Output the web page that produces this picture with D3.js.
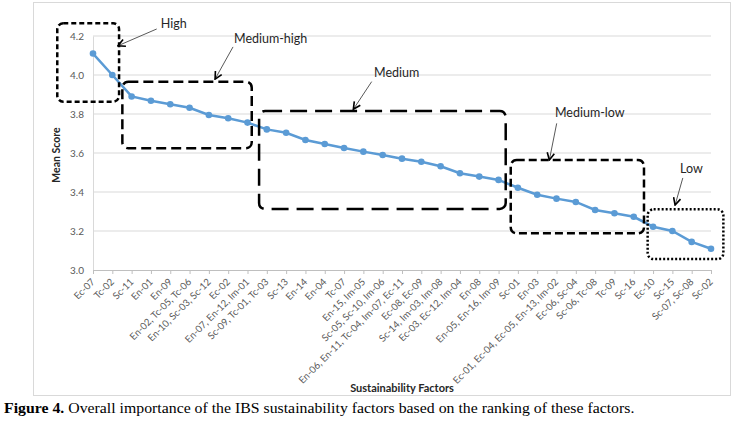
<!DOCTYPE html>
<html lang="en">
<head>
<meta charset="UTF-8">
<title>Figure 4</title>
<script src="https://d3js.org/d3.v7.min.js"></script>
<style>
  body { margin: 0; background: #fff; }
  svg { display: block; }
</style>
</head>
<body>
<script>
// factor groups along the x axis, ranked
var factors = [
  "Ec-07", "Tc-02", "Sc-11", "En-01", "En-09", "En-02, Tc-05, Tc-06",
  "En-10, Sc-03, Sc-12", "Ec-02", "En-07, En-12, Im-01", "Sc-09, Tc-01, Tc-03",
  "Sc-13", "En-14", "En-04", "Tc-07", "En-15, Im-05", "Sc-05, Sc-10, Im-06",
  "En-06, En-11, Tc-04, Im-07, Ec-11", "Ec-08, Ec-09", "Sc-14, Im-03, Im-08",
  "Ec-03, Ec-12, Im-04", "En-08", "En-05, En-16, Im-09", "Sc-01", "En-03",
  "Ec-01, Ec-04, Ec-05, En-13, Im-02", "Ec-06, Sc-04", "Sc-06, Tc-08", "Tc-09",
  "Sc-16", "Ec-10", "Sc-15", "Sc-07, Sc-08", "Sc-02"
];
var meanScore = [
  4.11, 4.00, 3.89, 3.868, 3.85, 3.832, 3.795, 3.778, 3.756, 3.721,
  3.704, 3.667, 3.646, 3.626, 3.607, 3.59, 3.571, 3.555, 3.532, 3.496,
  3.479, 3.462, 3.422, 3.386, 3.366, 3.349, 3.308, 3.291, 3.273, 3.222,
  3.20, 3.144, 3.109
];
var yTicks = [3.0, 3.2, 3.4, 3.6, 3.8, 4.0, 4.2];

// ranking groups: index span, score span, label spot and arrow (index, score)
var groupNames = ["High", "Medium-high", "Medium", "Medium-low", "Low"];
var groupIdx = [[-1.85, 1.35], [1.52, 8.22], [8.60, 21.37], [21.63, 28.53], [28.72, 32.64]];
var groupScore = [[4.265, 3.863], [3.966, 3.624], [3.815, 3.313], [3.564, 3.188], [3.311, 3.056]];
var labelAt = [[3.51, 4.262], [7.30, 4.185], [14.55, 4.012], [23.92, 3.807], [30.40, 3.518]];
var arrowFrom = [[3.30, 4.236], [7.25, 4.144], [14.43, 3.966], [24.01, 3.752], [30.54, 3.472]];
var arrowTo = [[1.29, 4.150], [6.32, 3.979], [13.48, 3.824], [23.63, 3.564], [30.14, 3.333]];
var dashes = ["5,3", "10,5", "17,8", "8,4", "2,2"];

var width = 738, height = 421;
var plotLeft = 93, plotRight = 711, plotTop = 36, plotBottom = 270;

var svg = d3.select("body").append("svg")
  .attr("width", width).attr("height", height);

// chart frame
svg.append("rect")
  .attr("x", 33.5).attr("y", 2.5).attr("width", 697).attr("height", 393)
  .attr("fill", "#fff").attr("stroke", "#d9d9d9");

var x = d3.scalePoint().domain(factors).range([plotLeft, plotRight]);
var xi = d3.scaleLinear().domain([0, factors.length - 1]).range([plotLeft, plotRight]);
var y = d3.scaleLinear().domain([3.0, 4.2]).range([plotBottom, plotTop]);

// gridlines
svg.append("g").selectAll("line")
  .data(yTicks.slice(1))
  .enter().append("line")
  .attr("x1", plotLeft).attr("x2", plotRight)
  .attr("y1", function(d) { return y(d); })
  .attr("y2", function(d) { return y(d); })
  .attr("stroke", "#d9d9d9").attr("stroke-width", 1);

// y axis
var gy = svg.append("g")
  .attr("transform", "translate(" + plotLeft + ",0)")
  .call(d3.axisLeft(y).tickValues(yTicks).tickFormat(d3.format(".1f")).tickSize(0).tickPadding(9));
gy.select(".domain").attr("stroke", "#d9d9d9");
gy.selectAll("text").attr("fill", "#595959")
  .style("font-family", "Lato, 'Open Sans', sans-serif").style("font-size", "10px");

// x axis
var gx = svg.append("g")
  .attr("transform", "translate(0," + plotBottom + ")")
  .call(d3.axisBottom(x).tickSize(4).tickSizeOuter(0));
gx.select(".domain").attr("stroke", "#bfbfbf");
gx.selectAll(".tick line").attr("stroke", "#bfbfbf");
gx.selectAll("text")
  .attr("fill", "#595959")
  .style("font-family", "Lato, 'Open Sans', sans-serif").style("font-size", "9.7px")
  .attr("text-anchor", "end")
  .attr("dy", "0.35em")
  .attr("transform", "translate(1,3) rotate(-45)")
  .attr("x", -6).attr("y", 4);

// axis titles
svg.append("text")
  .attr("transform", "translate(60," + (y(3.6) + 2) + ") rotate(-90)")
  .attr("text-anchor", "middle")
  .style("font-family", "Lato, 'Open Sans', sans-serif").style("font-size", "10.5px")
  .style("font-weight", "bold").attr("fill", "#262626")
  .text("Mean Score");
svg.append("text")
  .attr("x", (plotLeft + plotRight) / 2).attr("y", 392)
  .attr("text-anchor", "middle")
  .style("font-family", "Lato, 'Open Sans', sans-serif").style("font-size", "11px")
  .style("font-weight", "bold").attr("fill", "#262626")
  .text("Sustainability Factors");

// the line
var pts = factors.map(function(f, i) { return { name: f, value: meanScore[i] }; });
svg.append("path")
  .datum(pts)
  .attr("fill", "none").attr("stroke", "#5b9bd5").attr("stroke-width", 2.5)
  .attr("d", d3.line()
    .x(function(d) { return x(d.name); })
    .y(function(d) { return y(d.value); }));
svg.append("g").selectAll("circle")
  .data(pts)
  .enter().append("circle")
  .attr("cx", function(d) { return x(d.name); })
  .attr("cy", function(d) { return y(d.value); })
  .attr("r", 3.3)
  .attr("fill", "#5b9bd5");

// arrowhead
svg.append("defs").append("marker")
  .attr("id", "arr")
  .attr("markerUnits", "userSpaceOnUse")
  .attr("viewBox", "0 0 10 10")
  .attr("refX", 9).attr("refY", 5)
  .attr("markerWidth", 9).attr("markerHeight", 9)
  .attr("orient", "auto")
  .append("path")
  .attr("d", "M1,1 L9,5 L1,9")
  .attr("fill", "none").attr("stroke", "#000").attr("stroke-width", 1.8);

// group boxes, labels, arrows
var groups = groupNames.map(function(n, i) {
  return { name: n, ix: groupIdx[i], sc: groupScore[i], lab: labelAt[i],
           from: arrowFrom[i], to: arrowTo[i], dash: dashes[i] };
});
var g = svg.append("g").selectAll("g").data(groups).enter().append("g");
g.append("rect")
  .attr("x", function(d) { return xi(d.ix[0]); })
  .attr("y", function(d) { return y(d.sc[0]); })
  .attr("width", function(d) { return xi(d.ix[1]) - xi(d.ix[0]); })
  .attr("height", function(d) { return y(d.sc[1]) - y(d.sc[0]); })
  .attr("rx", 6).attr("ry", 6)
  .attr("fill", "none").attr("stroke", "#000").attr("stroke-width", 2.5)
  .attr("stroke-dasharray", function(d) { return d.dash; });
g.append("line")
  .attr("x1", function(d) { return xi(d.from[0]); })
  .attr("y1", function(d) { return y(d.from[1]); })
  .attr("x2", function(d) { return xi(d.to[0]); })
  .attr("y2", function(d) { return y(d.to[1]); })
  .attr("stroke", "#595959").attr("stroke-width", 1)
  .attr("marker-end", "url(#arr)");
g.append("text")
  .attr("x", function(d) { return xi(d.lab[0]); })
  .attr("y", function(d) { return y(d.lab[1]); })
  .attr("dy", "0.35em")
  .style("font-family", "Lato, 'Open Sans', sans-serif").style("font-size", "12.5px")
  .attr("fill", "#262626")
  .text(function(d) { return d.name; });

// caption (horizontally stretched like the scanned figure)
var cap = svg.append("text")
  .attr("transform", "translate(4,413) scale(1.13,1)")
  .style("font-family", "'Liberation Serif', 'Times New Roman', serif").style("font-size", "14px")
  .attr("fill", "#000");
cap.append("tspan").style("font-weight", "bold").text("Figure 4.");
cap.append("tspan").text(" Overall importance of the IBS sustainability factors based on the ranking of these factors.");
</script>
</body>
</html>
